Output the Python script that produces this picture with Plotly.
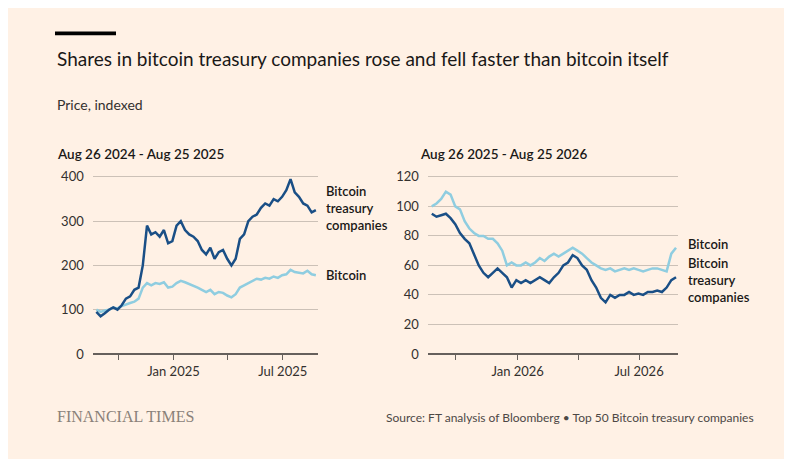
import pandas as pd
import plotly.graph_objects as go

# weekly index values
left_start = "2024-08-26"
left_treasury = [95, 85, 92, 100, 105, 100, 110, 125, 130, 145, 150, 200, 290, 270, 275, 265, 280, 250, 255,
                 290, 300, 280, 270, 265, 255, 235, 225, 240, 215, 230, 235, 215, 200, 215, 260, 270, 300,
                 310, 315, 330, 340, 335, 350, 345, 355, 370, 395, 365, 355, 340, 335, 320, 325]
left_bitcoin = [100, 95, 98, 100, 105, 103, 108, 112, 115, 118, 125, 150, 160, 155, 160, 158, 162, 150, 152,
                160, 165, 162, 158, 155, 150, 145, 140, 145, 135, 140, 138, 132, 128, 135, 150, 155, 160,
                165, 170, 168, 172, 170, 175, 172, 178, 180, 190, 185, 183, 182, 188, 180, 178]

right_start = "2025-08-26"
right_bitcoin = [100, 102, 105, 110, 108, 100, 98, 90, 85, 82, 80, 80, 78, 78, 75, 70, 60, 62, 60, 60, 62, 60,
                 62, 65, 63, 66, 68, 66, 68, 70, 72, 70, 68, 65, 62, 60, 58, 57, 58, 56, 57, 58, 57, 58, 57,
                 56, 57, 58, 58, 57, 56, 68, 72]
right_treasury = [95, 93, 94, 95, 92, 88, 82, 78, 75, 68, 60, 55, 52, 55, 58, 55, 52, 45, 50, 48, 50, 48, 50,
                  52, 50, 48, 52, 55, 60, 62, 67, 65, 60, 57, 50, 45, 38, 35, 40, 38, 40, 40, 42, 40, 41, 40,
                  42, 42, 43, 42, 45, 50, 52]

dark = "#1a4f86"
light = "#8fcde0"
bg = "#FFF1E5"
font = "Lato"

fig = go.Figure()

def add_panel(start, treasury, bitcoin, xa, ya):
    d1 = pd.date_range(start, periods=len(treasury), freq="7D")
    d2 = pd.date_range(start, periods=len(bitcoin), freq="7D")
    fig.add_trace(go.Scatter(x=d2, y=bitcoin, mode="lines", line=dict(color=light, width=2.5),
                             xaxis=xa, yaxis=ya, showlegend=False))
    fig.add_trace(go.Scatter(x=d1, y=treasury, mode="lines", line=dict(color=dark, width=2.5),
                             xaxis=xa, yaxis=ya, showlegend=False))

add_panel(left_start, left_treasury, left_bitcoin, "x", "y")
add_panel(right_start, right_treasury, right_bitcoin, "x2", "y2")

axis_font = dict(family=font, size=13, color="#33302e")
common_y = dict(showgrid=True, gridcolor="#ccc1b7", zeroline=True, zerolinecolor="#66605c",
                tickfont=axis_font, ticks="", showline=False, ticklabelstandoff=8)
common_x = dict(showgrid=False, ticks="outside", ticklen=5, tickcolor="#66605c",
                tickfont=axis_font, showline=False)

fig.update_layout(
    width=792, height=459, paper_bgcolor=bg, plot_bgcolor=bg,
    margin=dict(l=0, r=0, t=0, b=0),
    font=dict(family=font, color="#33302e"),
    xaxis=dict(domain=[0.107, 0.391], range=["2024-08-20", "2025-08-28"],
               tickvals=["2024-10-01", "2025-01-01", "2025-04-01", "2025-07-01"],
               ticktext=["", "Jan 2025", "", "Jul 2025"], **common_x),
    yaxis=dict(domain=[0.235, 0.641], range=[0, 410], tickvals=[0, 100, 200, 300, 400], **common_y),
    xaxis2=dict(domain=[0.530, 0.846], range=["2025-08-20", "2026-08-28"], anchor="y2",
                tickvals=["2025-10-01", "2026-01-01", "2026-04-01", "2026-07-01"],
                ticktext=["", "Jan 2026", "", "Jul 2026"], **common_x),
    yaxis2=dict(domain=[0.235, 0.641], range=[0, 123], anchor="x2",
                tickvals=[0, 20, 40, 60, 80, 100, 120], **common_y),
    shapes=[dict(type="rect", xref="paper", yref="paper", x0=47 / 792, x1=108 / 792,
                 y0=1 - 24 / 459, y1=1 - 20 / 459, fillcolor="#000000", line=dict(width=0))],
)

def txt(x, y, s, size=13, color="#33302e", anchor="left", fam=font, weight="normal"):
    fig.add_annotation(x=x, y=y, xref="paper", yref="paper", text=s, showarrow=False, xanchor=anchor,
                       yanchor="middle", align="left",
                       font=dict(family=fam, size=size, color=color, weight=weight))

txt(47 / 792, 1 - 48 / 459, "Shares in bitcoin treasury companies rose and fell faster than bitcoin itself",
    size=19, color="#1a1817")
txt(47 / 792, 1 - 95 / 459, "Price, indexed", size=14)
txt(47 / 792, 1 - 146 / 459, "Aug 26 2024 - Aug 25 2025", size=13.5, weight=600, color="#1a1817")
txt(410 / 792, 1 - 146 / 459, "Aug 26 2025 - Aug 25 2026", size=13.5, weight=600, color="#1a1817")
txt(316 / 792, 1 - 201 / 459, "Bitcoin<br>treasury<br>companies", size=13, weight=600, color="#1a1817")
txt(316 / 792, 1 - 270 / 459, "Bitcoin", size=13, weight=600, color="#1a1817")
txt(678 / 792, 1 - 238 / 459, "Bitcoin", size=13, weight=600, color="#1a1817")
txt(678 / 792, 1 - 275 / 459, "Bitcoin<br>treasury<br>companies", size=13, weight=600, color="#1a1817")
txt(47 / 792, 1 - 415 / 459, "FINANCIAL TIMES", size=16, color="#8a8179", fam="Liberation Serif")
txt(748 / 792, 1 - 416 / 459, "Source: FT analysis of Bloomberg \u2022 Top 50 Bitcoin treasury companies",
    size=12, anchor="right", color="#4d4845")

fig.write_html("out.html")
